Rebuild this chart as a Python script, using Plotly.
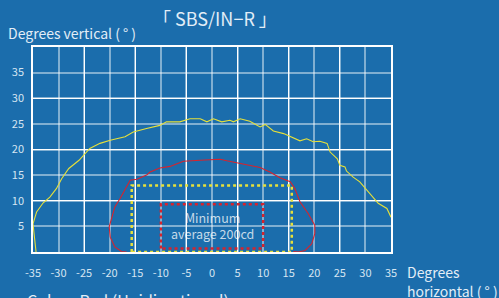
import plotly.graph_objects as go

# ---- data ----
x_ticks = [-35, -30, -25, -20, -15, -10, -5, 0, 5, 10, 15, 20, 25, 30, 35]
y_ticks = [5, 10, 15, 20, 25, 30, 35]

yellow_x = [-34.4, -35, -34.3, -33, -31.7, -30.7, -30.4, -29.4, -28, -26, -23.9, -21.9, -19.9, -17,
            -15.4, -12.8, -10.2, -8.9, -6.3, -4.3, -2.3, -1.0, 0.3, 1.9, 3.5, 4.2, 5.5, 7.4, 9.4,
            10.4, 12.0, 14, 15.3, 17.2, 18.5, 19.8, 21.1, 22.5, 23.1, 24.5, 25, 26, 26.3, 27.6,
            28.9, 30.2, 30.9, 32.5, 34.2, 35]
yellow_y = [0, 5.5, 7.8, 9.6, 10.7, 11.9, 12.4, 14.3, 16.3, 17.9, 20.2, 21.2, 21.8, 22.5,
            23.4, 24.1, 24.7, 25.4, 25.4, 26.0, 26.0, 25.4, 26.0, 25.4, 25.7, 25.4, 26.0, 25.5, 24.4,
            24.9, 23.6, 23.1, 22.5, 21.7, 22.1, 21.5, 21.6, 21.2, 19.5, 18.2, 16.9, 16.6, 15.8, 14.6,
            13.7, 12.2, 11.4, 9.5, 8.5, 6.8]

red_x = [-16.7, -17.7, -19, -19.9, -20.1, -19.6, -19, -18, -17, -16, -14.7, -12.8, -12.1, -10.2,
         -8.2, -5.6, -2.3, 1.6, 2.9, 5.5, 7.4, 9.4, 11.3, 13.3, 15.3, 16.2, 17.2, 18.8, 20.1,
         20.1, 19.5, 18.2, 16.9, 15.9]
red_y = [0, 0.1, 1.0, 2.9, 4.9, 6.8, 8.8, 10.4, 12.1, 14, 14.2, 15, 15.6, 16.4,
         16.7, 17.7, 17.9, 18.1, 17.8, 17.3, 17.0, 16.5, 15.6, 14.5, 13.7, 12.4, 9.8, 7.5, 5.2,
         3.6, 1.6, 0.3, 0, 0.1]

# boxes: [x0, x1, y0, y1]
yellow_box = [-15.7, 15.6, 0, 13.0]
red_box = [-10, 10, 0.7, 9.3]

# gridlines that render as crisp white (others are softer)
x_bright_grid = [-25, -15, -5, 5, 15, 25]
y_bright_grid = [10, 20, 30]

BG = "#1b6dac"
YEL = "#e6e03a"
RED = "#d8232c"
FONT = "Noto Sans CJK JP"
TXT = "#e2edf7"


def box_xy(b):
    x0, x1, y0, y1 = b
    return [x0, x0, x1, x1, x0], [y0, y1, y1, y0, y0]


fig = go.Figure()

bx, by = box_xy(yellow_box)
fig.add_trace(go.Scatter(x=bx, y=by, mode="lines", line=dict(color=YEL, width=2.5, dash="dot"),
                         hoverinfo="skip", showlegend=False))
bx, by = box_xy(red_box)
fig.add_trace(go.Scatter(x=bx, y=by, mode="lines", line=dict(color=RED, width=2.5, dash="dot"),
                         hoverinfo="skip", showlegend=False))
fig.add_trace(go.Scatter(x=yellow_x, y=yellow_y, mode="lines", line=dict(color=YEL, width=1.1),
                         showlegend=False))
fig.add_trace(go.Scatter(x=red_x, y=red_y, mode="lines", line=dict(color=RED, width=1.1),
                         showlegend=False))

fig.update_layout(
    width=499, height=298,
    margin=dict(l=33, r=108, t=47, b=46, autoexpand=False),
    paper_bgcolor=BG, plot_bgcolor=BG,
    font=dict(family=FONT, color="#d6e5f2"),
    showlegend=False,
)
axis_common = dict(showgrid=True, gridcolor="rgba(255,255,255,0.45)", gridwidth=2,
                   zeroline=False, showline=True, linecolor="#ffffff", linewidth=1.5,
                   mirror=True, tickcolor="rgba(0,0,0,0)", ticks="outside", automargin=False,
                   tickfont=dict(size=11, color="#d6e5f2", family=FONT))
fig.update_xaxes(range=[-35, 35], tickvals=x_ticks, ticktext=[str(v) for v in x_ticks],
                 ticklen=10,
                 minor=dict(tickvals=x_bright_grid, showgrid=True, gridcolor="#ffffff",
                            gridwidth=1, ticks=""),
                 **axis_common)
fig.update_yaxes(range=[0, 40], tickvals=y_ticks + [40], ticktext=[str(v) for v in y_ticks] + [""],
                 ticklen=5,
                 minor=dict(tickvals=y_bright_grid, showgrid=True, gridcolor="#ffffff",
                            gridwidth=1, ticks=""),
                 **axis_common)

# page-pixel positions -> paper coords of the plot area (page 33..391 x 47..252)
plot_l, plot_t, plot_w, plot_h = 33, 47, 358, 205


def px_to_paper(px, py):
    return (px - plot_l) / plot_w, 1 - (py - plot_t) / plot_h


ann = [
    dict(text="「 SBS/IN−R 」", x=215, y=18, size=18),
    dict(text="Degrees vertical ( ° )", x=6, y=33, size=14, xanchor="left"),
    dict(text="Degrees", x=405, y=272, size=14, xanchor="left"),
    dict(text="horizontal ( ° )", x=405, y=291, size=14, xanchor="left"),
    dict(text="Color:  Red (Unidirectional)", x=25, y=300, size=16, xanchor="left"),
]
for a in ann:
    xp, yp = px_to_paper(a["x"], a["y"])
    fig.add_annotation(text=a["text"], xref="paper", yref="paper", x=xp, y=yp,
                       xanchor=a.get("xanchor", "center"), yanchor="middle",
                       showarrow=False, font=dict(size=a["size"], color=TXT, family=FONT))

fig.add_annotation(text="Minimum<br>average 200cd", x=0, y=5.1, xref="x", yref="y",
                   showarrow=False, font=dict(size=12.5, color="rgba(255,255,255,0.75)", family=FONT),
                   align="center")

fig.write_html("out.html", config={"displayModeBar": False},
               post_script="document.body.style.margin='0';document.body.style.overflow='hidden';")
